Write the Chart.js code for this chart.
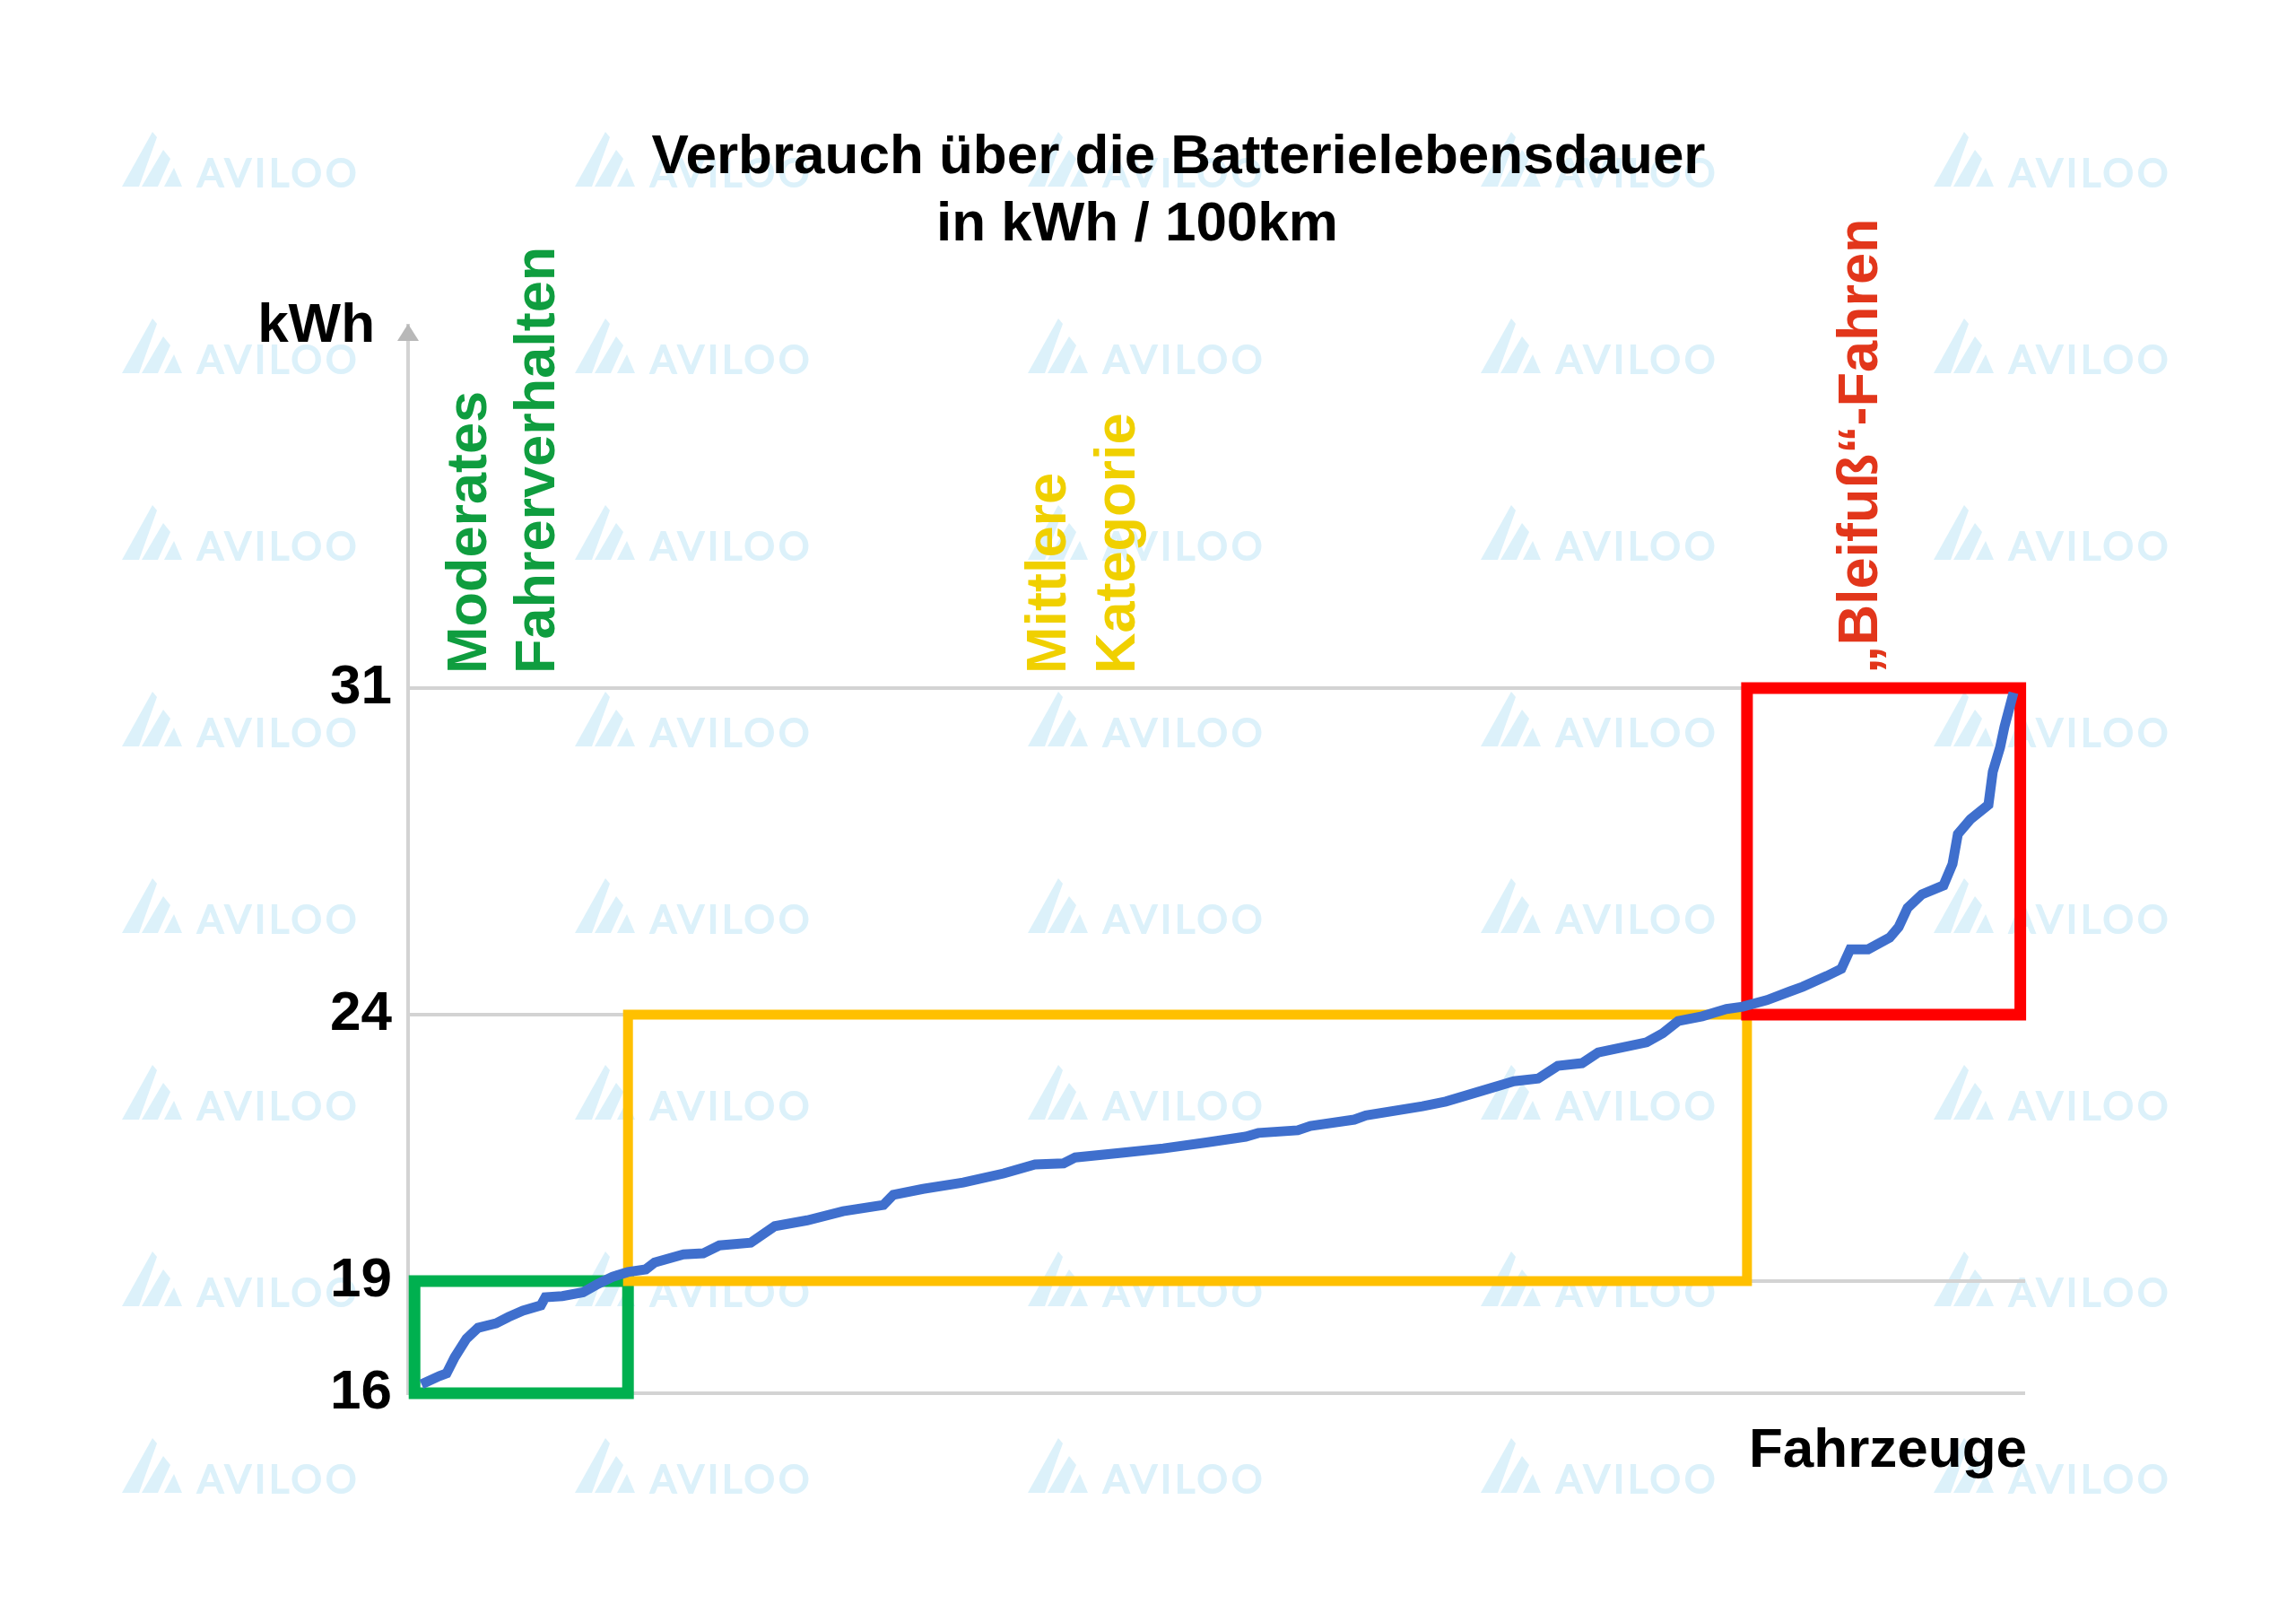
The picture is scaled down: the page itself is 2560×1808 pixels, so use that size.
<!DOCTYPE html>
<html lang="de">
<head>
<meta charset="UTF-8" />
<title>Verbrauch über die Batterielebensdauer</title>
<style>
  html, body { margin: 0; padding: 0; background: #fff; }
  #wrap { width: 2560px; height: 1808px; }
</style>
</head>
<body>
<div id="wrap"><canvas id="chart" width="2560" height="1808"></canvas></div>
<script src="https://cdn.jsdelivr.net/npm/chart.js"></script>
<script>
// Fahrzeuge sortiert nach Verbrauch: Anteil (%) und Verbrauch in kWh/100km
const vehicleShare = [0.83, 1.94, 2.38, 2.88, 3.61, 4.33, 5.44, 6.21, 7.10, 8.21, 8.49, 9.54, 10.82, 11.76, 12.65, 13.59,
  14.70, 15.25, 17.03, 18.25, 19.25, 21.19, 22.68, 24.68, 26.90, 29.40, 30.01, 31.84, 34.33, 36.83, 38.77, 40.54,
  41.26, 44.26, 46.70, 49.36, 51.80, 52.58, 55.02, 55.80, 58.51, 59.23, 62.73, 64.17, 66.17, 68.39, 69.88, 71.10,
  72.60, 73.60, 76.59, 77.59, 78.54, 80.03, 81.53, 82.53, 84.03, 85.47, 86.25, 87.74, 88.63, 89.18, 90.29, 91.62,
  92.18, 92.73, 93.62, 94.95, 95.51, 95.84, 96.62, 97.73, 98.00, 98.45, 98.72, 99.28];
const consumption = [16.24, 16.46, 16.53, 16.96, 17.46, 17.75, 17.87, 18.04, 18.21, 18.35, 18.57, 18.60, 18.70, 18.93, 19.08, 19.17,
  19.22, 19.35, 19.50, 19.52, 19.67, 19.72, 20.03, 20.14, 20.31, 20.43, 20.62, 20.73, 20.85, 21.02, 21.19, 21.21,
  21.32, 21.41, 21.49, 21.60, 21.71, 21.78, 21.83, 21.91, 22.03, 22.11, 22.28, 22.37, 22.55, 22.75, 22.80, 23.04,
  23.09, 23.29, 23.48, 23.65, 23.88, 23.97, 24.12, 24.17, 24.31, 24.50, 24.60, 24.83, 24.98, 25.40, 25.40, 25.65,
  25.88, 26.29, 26.58, 26.77, 27.23, 27.87, 28.19, 28.50, 29.21, 29.73, 30.17, 30.90];
const yTicks = [16, 19, 24, 31];

// Kategorien
const categoryLabels = [["Moderates", "Fahrerverhalten"], ["Mittlere", "Kategorie"], ["„Bleifuß“-Fahren"]];
const categoryShareFrom = [0.4, 13.6, 82.8];
const categoryShareTo = [13.6, 82.8, 99.7];
const categoryKwhFrom = [16, 19, 24];
const categoryKwhTo = [19, 24, 31];

const titleLines = ["Verbrauch über die Batterielebensdauer", "in kWh / 100km"];
const yAxisTitle = "kWh";
const xAxisTitle = "Fahrzeuge";

// Styles
const boxColors = ["#00b04f", "#ffc000", "#ff0000"];
const boxWidths = [13, 11, 13];
const labelColors = ["#0f9d3f", "#f0d000", "#e2361b"];
const labelBaselines = [[542, 618], [1188, 1265], [2093]];
const labelBottom = 751;
const FONT = '"Liberation Sans", Arial, sans-serif';

// y axis in the original is not evenly spaced: piecewise linear scale
class PiecewiseScale extends Chart.LinearScale {
  _dec(value) {
    const b = this.options.breaks, s = this.options.spans;
    const total = s.reduce((a, c) => a + c, 0);
    let acc = 0;
    for (let i = 0; i < s.length; i++) {
      if (value <= b[i + 1] || i === s.length - 1) {
        return (acc + (value - b[i]) / (b[i + 1] - b[i]) * s[i]) / total;
      }
      acc += s[i];
    }
    return 0;
  }
  getPixelForValue(value) {
    if (value === null || isNaN(value)) return NaN;
    return this.getPixelForDecimal(this._dec(value));
  }
  getValueForPixel(pixel) {
    const d = this.getDecimalForPixel(pixel);
    const b = this.options.breaks, s = this.options.spans;
    const total = s.reduce((a, c) => a + c, 0);
    let acc = 0;
    for (let i = 0; i < s.length; i++) {
      const f = s[i] / total;
      if (d <= acc + f || i === s.length - 1) return b[i] + (d - acc) / f * (b[i + 1] - b[i]);
      acc += f;
    }
    return b[0];
  }
}
PiecewiseScale.id = "piecewise";
PiecewiseScale.defaults = Chart.LinearScale.defaults;
Chart.register(PiecewiseScale);

function drawWatermark(ctx, ox, by) {
  ctx.fillStyle = "#dcf1fa";
  ctx.strokeStyle = "#dcf1fa";
  const polys = [
    [[0, 0], [19, 0], [39, -55], [34, -61]],
    [[22, 0], [40, 0], [54, -31], [46, -41]],
    [[47, 0], [67, 0], [58, -21]]
  ];
  polys.forEach(p => {
    ctx.beginPath();
    p.forEach((pt, i) => i ? ctx.lineTo(ox + pt[0], by + pt[1]) : ctx.moveTo(ox + pt[0], by + pt[1]));
    ctx.closePath();
    ctx.fill();
  });
  ctx.font = "400 43px Lato, sans-serif";
  ctx.letterSpacing = "4px";
  ctx.textAlign = "left";
  ctx.textBaseline = "alphabetic";
  ctx.lineWidth = 2;
  ctx.fillText("AVILOO", ox + 84, by);
  ctx.strokeText("AVILOO", ox + 84, by);
  ctx.letterSpacing = "0px";
}

const decorPlugin = {
  id: "decor",
  beforeDraw(chart) {
    const ctx = chart.ctx;
    ctx.save();
    ctx.fillStyle = "#fff";
    ctx.fillRect(0, 0, chart.width, chart.height);
    for (let r = 0; r < 8; r++) {
      for (let c = 0; c < 5; c++) {
        drawWatermark(ctx, 136 + c * 505, 208 + r * 208);
      }
    }
    ctx.restore();
  },
  beforeDatasetsDraw(chart) {
    const { ctx, scales: { x, y } } = chart;
    ctx.save();
    ctx.lineJoin = "miter";
    categoryLabels.forEach((_, i) => {
      const l = x.getPixelForValue(categoryShareFrom[i]);
      const r = x.getPixelForValue(categoryShareTo[i]);
      const t = y.getPixelForValue(categoryKwhTo[i]);
      const b = y.getPixelForValue(categoryKwhFrom[i]);
      ctx.strokeStyle = boxColors[i];
      ctx.lineWidth = boxWidths[i];
      ctx.strokeRect(l, t, r - l, b - t);
    });
    ctx.restore();
  },
  afterDraw(chart) {
    const { ctx, chartArea } = chart;
    ctx.save();
    // axis arrow
    ctx.fillStyle = "#b8b8b8";
    ctx.beginPath();
    ctx.moveTo(chartArea.left, chartArea.top - 2);
    ctx.lineTo(chartArea.left - 12, chartArea.top + 17);
    ctx.lineTo(chartArea.left + 12, chartArea.top + 17);
    ctx.closePath();
    ctx.fill();

    // title
    ctx.fillStyle = "#000";
    ctx.font = "bold 62px " + FONT;
    ctx.textAlign = "center";
    ctx.textBaseline = "alphabetic";
    ctx.fillText(titleLines[0], 1314, 193);
    ctx.fillText(titleLines[1], 1268, 268);

    // axis titles
    ctx.font = "bold 62px " + FONT;
    ctx.textAlign = "right";
    ctx.fillText(yAxisTitle, 418, 381);
    ctx.textAlign = "left";
    ctx.fillText(xAxisTitle, 1950, 1635);

    // category labels, rotated
    ctx.font = "bold 63px " + FONT;
    categoryLabels.forEach((lines, i) => {
      ctx.fillStyle = labelColors[i];
      lines.forEach((txt, j) => {
        ctx.save();
        ctx.translate(labelBaselines[i][j], labelBottom);
        ctx.rotate(-Math.PI / 2);
        ctx.textAlign = "left";
        ctx.fillText(txt, 0, 0);
        ctx.restore();
      });
    });
    ctx.restore();
  }
};

new Chart(document.getElementById("chart").getContext("2d"), {
  type: "line",
  data: {
    datasets: [{
      data: vehicleShare.map((v, i) => ({ x: v, y: consumption[i] })),
      borderColor: "#3f6fcd",
      borderWidth: 11,
      pointRadius: 0,
      tension: 0,
      fill: false
    }]
  },
  options: {
    responsive: false,
    devicePixelRatio: 1,
    animation: false,
    events: [],
    layout: { padding: { left: 368, top: 363, right: 302, bottom: 255 } },
    plugins: { legend: { display: false }, tooltip: { enabled: false }, title: { display: false } },
    scales: {
      x: { type: "linear", min: 0, max: 100, display: false },
      y: {
        type: "piecewise",
        min: 16,
        max: 38.77,
        breaks: [16, 19, 24, 31, 38.77],
        spans: [125, 297, 364, 404],
        afterBuildTicks: (scale) => { scale.ticks = yTicks.map(v => ({ value: v })); },
        afterFit: (scale) => { scale.width = 87; },
        grid: { color: "#d3d3d3", lineWidth: 4, drawTicks: false },
        border: { display: true, color: "#d3d3d3", width: 4 },
        ticks: {
          crossAlign: "far",
          padding: 14,
          color: "#000",
          font: { family: FONT, size: 62, weight: "bold" },
          callback: (v) => String(v)
        }
      }
    }
  },
  plugins: [decorPlugin]
});
</script>
</body>
</html>
